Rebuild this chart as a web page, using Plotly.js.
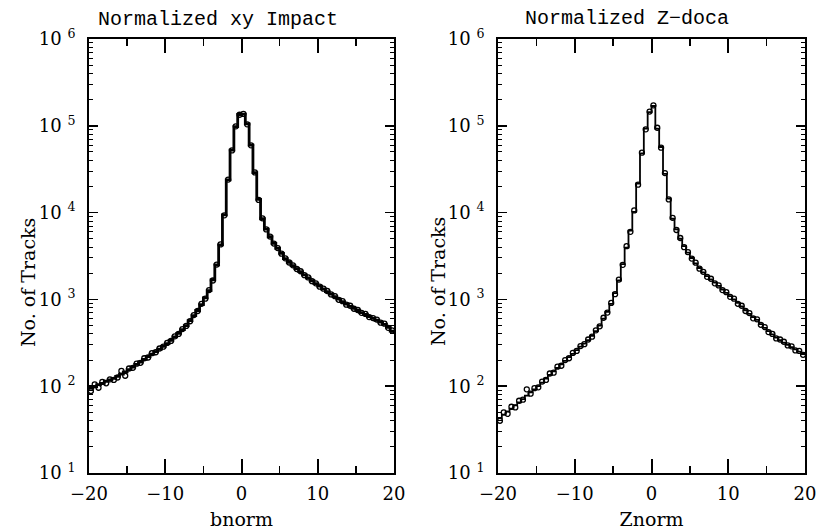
<!DOCTYPE html>
<html>
<head>
<meta charset="utf-8">
<script src="https://cdn.plot.ly/plotly-3.0.1.min.js"></script>
<style>html,body{margin:0;padding:0;background:#fff;}#chart{width:818px;height:530px;}</style>
</head>
<body>
<div id="chart"></div>
<script>
// ---- data ----
const panelTitles = ['Normalized xy Impact', 'Normalized Z\u2212doca'];
const xTitles = ['bnorm', 'Znorm'];
const yTitle = 'No. of Tracks';
const xTickVals = [-20, -10, 0, 10, 20];
const xMinorVals = [-15, -5, 5, 15];
const yTickVals = [10, 100, 1000, 10000, 100000, 1000000];
const yTickText = ['10\u00a0<sup>1</sup>', '10\u00a0<sup>2</sup>', '10\u00a0<sup>3</sup>', '10\u00a0<sup>4</sup>', '10\u00a0<sup>5</sup>', '10\u00a0<sup>6</sup>'];

// bin centres: 80 bins of width 0.5 from -20 to 20
const binCenters = Array.from({length: 80}, (_, i) => -19.75 + 0.5 * i);

// Normalized xy impact (bnorm): histogram (line) and data points
const bnormHist = [
  95, 98, 104, 108, 114, 118, 123, 130, 138, 146,
  155, 166, 178, 190, 204, 220, 234, 250, 268, 288,
  310, 338, 370, 405, 448, 500, 570, 650, 745, 870,
  1040, 1260, 1680, 2500, 4240, 9400, 23800, 52500, 97700, 135000,
  136000, 105000, 60000, 28800, 14200, 8500, 6440, 5270, 4430, 3880,
  3390, 2950, 2680, 2450, 2260, 2090, 1920, 1770, 1640, 1520,
  1420, 1320, 1230, 1150, 1075, 1005, 945, 885, 830, 790,
  745, 705, 670, 635, 605, 575, 548, 515, 475, 430
];
const bnormData = [
  88, 105, 96, 112, 108, 120, 118, 126, 150, 132,
  160, 163, 182, 186, 210, 214, 240, 246, 272, 285,
  315, 332, 375, 400, 455, 495, 560, 660, 735, 890,
  1020, 1280, 1650, 2520, 4300, 9300, 24000, 52000, 98500, 134000,
  137000, 104000, 59500, 29000, 14000, 8600, 6400, 5300, 4400, 3900,
  3360, 2970, 2660, 2470, 2240, 2110, 1900, 1790, 1620, 1530,
  1400, 1330, 1250, 1140, 1090, 990, 955, 870, 845, 780,
  755, 700, 680, 625, 610, 585, 540, 525, 470, 440
];

// Normalized Z-doca (Znorm): histogram (line) and data points
const znormHist = [
  43, 47, 51, 55, 60, 65, 71, 78, 85, 92,
  100, 110, 122, 135, 148, 162, 178, 196, 216, 236,
  260, 285, 310, 340, 380, 430, 500, 600, 720, 890,
  1180, 1650, 2550, 3950, 6200, 10200, 21600, 48000, 93000, 144000,
  169000, 93000, 57000, 28000, 14500, 8500, 6400, 5000, 4100, 3450,
  3000, 2600, 2300, 2050, 1850, 1700, 1560, 1430, 1300, 1190,
  1090, 1000, 910, 830, 750, 680, 625, 580, 520, 470,
  430, 395, 362, 340, 318, 300, 282, 265, 250, 235
];
const znormData = [
  40, 50, 48, 58, 57, 68, 70, 92, 82, 95,
  97, 113, 118, 140, 143, 168, 172, 200, 210, 242,
  255, 290, 305, 345, 372, 440, 490, 615, 705, 910,
  1150, 1690, 2500, 4100, 6000, 10600, 21000, 49000, 91000, 146000,
  172000, 95000, 56000, 28500, 14200, 8700, 6300, 5100, 4000, 3500,
  2950, 2650, 2260, 2080, 1820, 1730, 1530, 1450, 1280, 1210,
  1070, 1020, 890, 845, 735, 695, 605, 590, 510, 480,
  420, 400, 355, 345, 325, 295, 288, 258, 255, 230
];

// ---- build traces ----
function stepXY(centers, vals) {
  const half = (centers[1] - centers[0]) / 2;
  const xs = centers.map(c => c - half);
  const ys = vals.slice();
  xs.push(centers[centers.length - 1] + half);
  ys.push(vals[vals.length - 1]);
  return {xs, ys};
}
const s1 = stepXY(binCenters, bnormHist);
const s2 = stepXY(binCenters, znormHist);

const traces = [
  {x: s1.xs, y: s1.ys, xaxis: 'x', yaxis: 'y', type: 'scatter', mode: 'lines',
   line: {shape: 'hv', color: '#000', width: 2.8}, hoverinfo: 'skip'},
  {x: binCenters, y: bnormData, xaxis: 'x', yaxis: 'y', type: 'scatter', mode: 'markers',
   marker: {symbol: 'circle-open', size: 5, color: '#000', line: {width: 1.3, color: '#000'}}},
  {x: s2.xs, y: s2.ys, xaxis: 'x2', yaxis: 'y2', type: 'scatter', mode: 'lines',
   line: {shape: 'hv', color: '#000', width: 1.8}, hoverinfo: 'skip'},
  {x: binCenters, y: znormData, xaxis: 'x2', yaxis: 'y2', type: 'scatter', mode: 'markers',
   marker: {symbol: 'circle-open', size: 5, color: '#000', line: {width: 1.3, color: '#000'}}}
];

const serif = 'DejaVu Serif, Liberation Serif, serif';
const mono = 'Liberation Mono, DejaVu Sans Mono, monospace';
const yMinor = [];
for (let e = 1; e < 6; e++) for (let d = 2; d <= 9; d++) yMinor.push(d * Math.pow(10, e));

function xAxis(dom, title, anchor) {
  return {
    domain: dom, anchor: anchor, range: [-20, 20], tickmode: 'array', tickvals: xTickVals,
    ticks: 'inside', ticklen: 14, tickwidth: 2, tickcolor: '#000',
    minor: {tickmode: 'array', tickvals: xMinorVals, ticks: 'inside', ticklen: 7, tickwidth: 1.5, tickcolor: '#000', showgrid: false},
    showline: true, linewidth: 2, linecolor: '#000', mirror: 'ticks',
    showgrid: false, zeroline: false,
    tickfont: {family: serif, size: 18, color: '#000'},
    ticklabelstandoff: 3,
    title: {text: title, font: {family: serif, size: 19, color: '#000'}, standoff: 11}
  };
}
function yAxis(dom, anchor) {
  return {
    domain: dom, anchor: anchor, type: 'log', range: [1, 6], tickmode: 'array',
    tickvals: yTickVals, ticktext: yTickText,
    ticks: 'inside', ticklen: 9, tickwidth: 1.5, tickcolor: '#000',
    minor: {tickmode: 'array', tickvals: yMinor, ticks: 'inside', ticklen: 4, tickwidth: 1, tickcolor: '#000', showgrid: false},
    showline: true, linewidth: 2, linecolor: '#000', mirror: 'ticks',
    showgrid: false, zeroline: false,
    tickfont: {family: serif, size: 18, color: '#000'},
    ticklabelstandoff: 8
  };
}

const W = 818, H = 530;
const L = 89, R = 13, T = 39, B = 57;
const pw = W - L - R, ph = H - T - B;
const px = v => (v - L) / pw;          // pixel x -> paper x
const py = v => (H - B - v) / ph;      // pixel y -> paper y
const layout = {
  width: W, height: H,
  margin: {l: L, r: R, t: T, b: B, pad: 0},
  paper_bgcolor: '#fff', plot_bgcolor: '#fff',
  showlegend: false,
  xaxis: xAxis([0, px(394)], xTitles[0], 'y'),
  yaxis: yAxis([0, 1], 'x'),
  xaxis2: xAxis([px(498), 1], xTitles[1], 'y2'),
  yaxis2: yAxis([0, 1], 'x2'),
  annotations: [
    {text: panelTitles[0], xref: 'paper', yref: 'paper', x: px(218), y: py(20),
     xanchor: 'center', yanchor: 'middle', showarrow: false,
     font: {family: mono, size: 20, color: '#000'}},
    {text: panelTitles[1], xref: 'paper', yref: 'paper', x: px(627), y: py(19),
     xanchor: 'center', yanchor: 'middle', showarrow: false,
     font: {family: mono, size: 20, color: '#000'}},
    {text: yTitle, xref: 'paper', yref: 'paper', x: px(28), y: py(283), textangle: -90,
     xanchor: 'center', yanchor: 'middle', showarrow: false,
     font: {family: serif, size: 19, color: '#000'}},
    {text: yTitle, xref: 'paper', yref: 'paper', x: px(438), y: py(282), textangle: -90,
     xanchor: 'center', yanchor: 'middle', showarrow: false,
     font: {family: serif, size: 19, color: '#000'}}
  ]
};

Plotly.newPlot('chart', traces, layout, {staticPlot: true, displayModeBar: false});
</script>
</body>
</html>
